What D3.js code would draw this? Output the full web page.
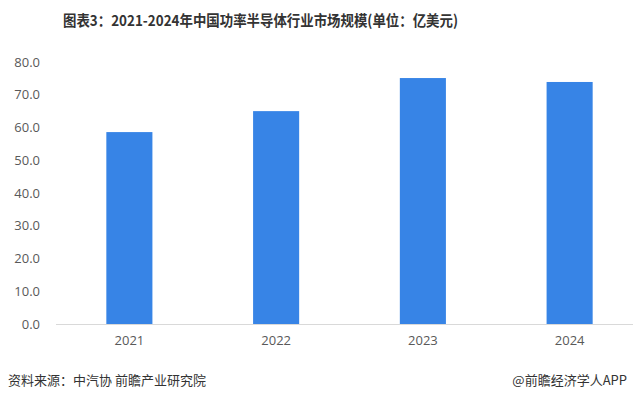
<!DOCTYPE html>
<html>
<head>
<meta charset="utf-8">
<script src="https://cdn.jsdelivr.net/npm/d3@7"></script>
<style>
  body { margin: 0; background: #fff; }
  svg text { font-family: "Noto Sans CJK SC", "Noto Sans", sans-serif; }
</style>
</head>
<body>
<svg id="chart" width="633" height="397"></svg>
<script>
// ----------
var years = ['2021', '2022', '2023', '2024'];
var values = [58.6, 65.0, 75.1, 73.9];
var yTicks = [0, 10, 20, 30, 40, 50, 60, 70, 80];

var titleText = '图表3：2021-2024年中国功率半导体行业市场规模(单位：亿美元)';
var sourceText = '资料来源：中汽协 前瞻产业研究院';
var creditText = '@前瞻经济学人APP';

var svg = d3.select('#chart');

// ----------
var x = d3.scaleBand()
  .domain(years)
  .range([56, 643])
  .paddingInner(0.686)
  .paddingOuter(0.343);

var y = d3.scaleLinear()
  .domain([0, 80])
  .range([324, 62]);

// title
svg.append('text')
  .attr('x', 63)
  .attr('y', 26)
  .attr('textLength', 395)
  .attr('lengthAdjust', 'spacingAndGlyphs')
  .style('font-size', '15px')
  .style('font-weight', 'bold')
  .style('fill', '#333')
  .text(titleText);

// y axis labels
var yAxis = d3.axisLeft(y)
  .tickValues(yTicks)
  .tickFormat(d3.format('.1f'))
  .tickSize(0)
  .tickPadding(0);

var yg = svg.append('g')
  .attr('transform', 'translate(40,0)')
  .call(yAxis);
yg.select('.domain').remove();
yg.selectAll('text')
  .style('font-size', '13px')
  .style('fill', '#595959')
  .style('font-family', '"Open Sans", "Noto Sans", sans-serif');

// bars
svg.append('g').selectAll('rect')
  .data(values)
  .join('rect')
  .attr('x', function(d, i) { return x(years[i]); })
  .attr('y', function(d) { return y(d); })
  .attr('width', x.bandwidth())
  .attr('height', function(d) { return y(0) - y(d); })
  .style('fill', '#3784e6');

// x axis
var xAxis = d3.axisBottom(x)
  .tickSize(0)
  .tickPadding(12);

var xg = svg.append('g')
  .attr('transform', 'translate(0,' + y(0) + ')')
  .call(xAxis);
xg.select('.domain')
  .attr('d', 'M56,0.5H633')
  .style('stroke', '#d9d9d9');
xg.selectAll('text')
  .style('font-size', '13px')
  .style('fill', '#595959')
  .style('font-family', '"Open Sans", "Noto Sans", sans-serif');

// footer
svg.append('text')
  .attr('x', 8)
  .attr('y', 385)
  .style('font-size', '13px')
  .style('fill', '#333')
  .text(sourceText);

svg.append('text')
  .attr('x', 627)
  .attr('y', 385)
  .attr('text-anchor', 'end')
  .style('font-size', '13px')
  .style('fill', '#333')
  .text(creditText);
</script>
</body>
</html>
